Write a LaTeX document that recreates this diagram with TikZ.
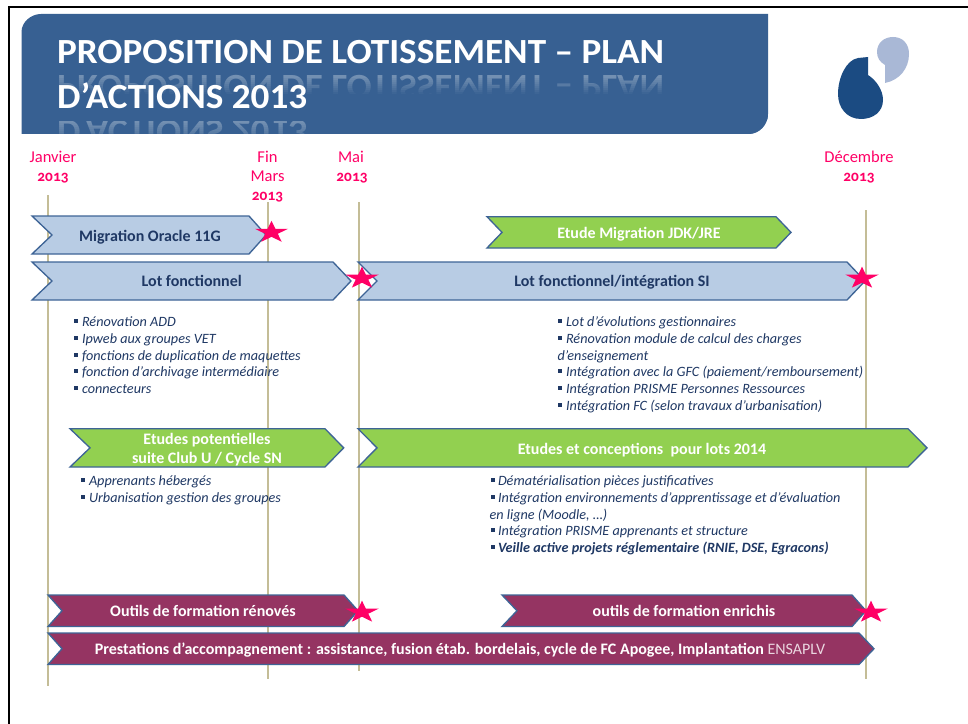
\documentclass[tikz,border=0pt]{standalone}
\usepackage{fontspec}
\setmainfont{Carlito}
\definecolor{titleblue}{HTML}{376092}
\definecolor{lineC}{HTML}{C4BD97}
\definecolor{strokeC}{HTML}{3E6496}
\definecolor{paleC}{HTML}{B8CCE4}
\definecolor{greenC}{HTML}{92D050}
\definecolor{purpleC}{HTML}{953462}
\definecolor{starC}{HTML}{FF0066}
\definecolor{inkC}{HTML}{1F3864}
\definecolor{listC}{HTML}{1F3864}
\definecolor{logoA}{HTML}{1B4B82}
\definecolor{logoB}{HTML}{A9B8D6}
\newfontfamily\titlefont[FakeStretch=1.053,BoldFont={Carlito Bold}]{Carlito}
\tikzset{
  tl/.style={draw=lineC,line width=1.5pt},
  chevpale/.style={draw=strokeC,fill=paleC,line width=1pt,line join=miter},
  chevgreen/.style={draw=strokeC,fill=greenC,line width=1pt,line join=miter},
  chevpurple/.style={draw=strokeC,fill=purpleC,line width=1pt,line join=miter},
  base/.style={inner sep=0pt,outer sep=0pt},
  lab/.style={base,anchor=base,font=\fontsize{12}{14}\selectfont\bfseries},
  month/.style={base,anchor=base,text=starC,font=\fontsize{12.4}{14}\selectfont},
  yearlab/.style={base,anchor=base,text=starC,font=\fontsize{11.5}{13}\selectfont\bfseries\addfontfeatures{Numbers=OldStyle}},
  listitem/.style={base,anchor=base west,text=listC,font=\fontsize{10.65}{12}\selectfont\itshape},
  ttl/.style={base,anchor=base west,text=white,font=\titlefont\fontsize{26.5}{30}\selectfont\bfseries},
  rfl/.style={base,anchor=base west,text=white,text opacity=.3,font=\titlefont\fontsize{26.5}{30}\selectfont\bfseries},
}
\newcommand\chev[7]{\draw[#1] (#2,#6) -- (#4,#6) -- (#5,{(#6+#7)/2}) -- (#4,#7) -- (#2,#7) -- (#3,{(#6+#7)/2}) -- cycle;}
\newcommand\starat[2]{\fill[starC,shift={(#1,#2)}]
  (0,-11.6) -- (3.9,-3.6) -- (16.6,-3.6) -- (6.3,1.4) -- (10.2,9.4) -- (0,4.4) -- (-10.2,9.4) -- (-6.3,1.4) -- (-16.6,-3.6) -- (-3.9,-3.6) -- cycle;}
\newcommand\bul[2]{\fill[listC] (#1,#2-7.5) rectangle ++(4,4);}
\newcommand\titlepath{(21.5,134) -- (21.5,32) .. controls (21.5,22) and (31,14) .. (41,14) -- (768,14) -- (768,114) .. controls (768,125) and (759,134) .. (749,134) -- cycle}
\begin{document}
\begin{tikzpicture}[x=0.75pt,y=-0.75pt]
\useasboundingbox (0,0) rectangle (968,724);
\fill[white] (0,0) rectangle (968,724);
% frame
\draw[black,line width=1.5pt] (8.5,724) -- (8.5,7.3) -- (968,7.3);
% title band
\path[fill=titleblue] \titlepath;
\begin{scope}
\clip \titlepath;
\node[rfl] (r1) at (57,76) {\scalebox{1}[-1]{PROPOSITION DE LOTISSEMENT – PLAN}};
\node[rfl] (r2) at (57,121) {\scalebox{1}[-1]{D’ACTIONS 2013}};
\foreach \i in {0,...,9}{
  \fill[titleblue,opacity=\i/9] (21.5,76+\i*2) rectangle (768,78+\i*2);
}
\fill[titleblue] (21.5,96) rectangle (768,121);
\foreach \i in {0,...,6}{
  \fill[titleblue,opacity=\i/12] (21.5,121+\i*2) rectangle (768,123+\i*2);
}
\end{scope}
\node[ttl] (t1) at (57,63.5) {PROPOSITION DE LOTISSEMENT – PLAN};
\node[ttl] (t2) at (57,108.5) {D’ACTIONS 2013};
% logo
\fill[logoA] (868,57) -- (868,75) .. controls (876,80) and (883,90) .. (883,100) .. controls (883,112) and (873,119) .. (861,119) .. controls (847,119) and (838,108) .. (838,94) .. controls (838,78) and (846,60) .. (858,58) -- cycle;
\fill[logoB] (893,37) .. controls (903,37) and (909,44) .. (909,54) .. controls (909,68) and (900,80) .. (885,83) -- (885,65) .. controls (880,62) and (877,58) .. (877,52) .. controls (877,43) and (884,37) .. (893,37) -- cycle;
% date labels
\node[month] (m1) at (53,162) {Janvier};
\node[yearlab] (y1) at (53,181.5) {2013};
\node[month] (m2a) at (267.5,162) {Fin};
\node[month] (m2b) at (267.5,181.5) {Mars};
\node[yearlab] (y2) at (267.5,200.5) {2013};
\node[month] (m3) at (351,162) {Mai};
\node[yearlab] (y3) at (352,181.5) {2013};
\node[month] (m4) at (859,162) {Décembre};
\node[yearlab] (y4) at (859,181.5) {2013};
% timeline rules
\draw[tl] (48,195) -- (48,686);
\draw[tl] (267.5,202) -- (267.5,679);
\draw[tl] (358.5,202) -- (358.5,671);
\draw[tl] (866,210) -- (866,679);
% chevrons
\chev{chevpale}{32}{52}{249}{266}{216}{254}
\chev{chevgreen}{487}{502}{776}{791}{216.7}{248}
\chev{chevpale}{32}{52}{333}{351}{262}{300}
\chev{chevpale}{358}{377}{847}{865}{262}{300}
\chev{chevgreen}{70}{90}{325}{343.7}{428.7}{467}
\chev{chevgreen}{358}{377}{908}{927}{428.7}{467}
\chev{chevpurple}{48}{62}{344}{358}{595}{626.5}
\chev{chevpurple}{502}{517}{852}{866}{595}{626.5}
\chev{chevpurple}{48}{62}{859}{874}{633}{664.5}
% chevron labels
\node[lab,text=inkC] (a1) at (150,241) {Migration Oracle 11G};
\node[lab,text=inkC] (a2) at (191.7,286) {Lot fonctionnel};
\node[lab,text=inkC] (a3) at (612,286) {Lot fonctionnel/intégration SI};
\node[lab,text=white] (a4) at (639,238) {Etude Migration JDK/JRE};
\node[lab,text=white] (a5a) at (207,444) {Etudes potentielles};
\node[lab,text=white] (a5b) at (207,463) {suite Club U / Cycle SN};
\node[lab,text=white] (a6) at (642,454) {Etudes et conceptions\ \ pour lots 2014};
\node[lab,text=white] (a7) at (203,616) {Outils de formation rénovés};
\node[lab,text=white] (a8) at (684,616) {outils de formation enrichis};
\node[lab,text=white] (a9) at (460,654) {Prestations d’accompagnement : assistance, fusion étab. bordelais, cycle de FC Apogee, Implantation {\mdseries\color{white!80!purpleC}ENSAPLV}};
% lists
\bul{73.5}{326}\node[listitem] (l1) at (82,326) {Rénovation ADD};
\bul{73.5}{343}\node[listitem] (l2) at (82,343) {Ipweb aux groupes VET};
\bul{73.5}{360}\node[listitem] (l3) at (82,360) {fonctions de duplication de maquettes};
\bul{73.5}{376}\node[listitem] (l4) at (82,376) {fonction d’archivage intermédiaire};
\bul{73.5}{393}\node[listitem] (l5) at (82,393) {connecteurs};
\bul{81}{485}\node[listitem] (p1) at (89,485) {Apprenants hébergés};
\bul{81}{502}\node[listitem] (p2) at (89,502) {Urbanisation gestion des groupes};
\bul{558}{326}\node[listitem] (s1) at (566,326) {Lot d’évolutions gestionnaires};
\bul{558}{343}\node[listitem] (s2) at (566,343) {Rénovation module de calcul des charges};
\node[listitem] (s2b) at (557.5,360) {d’enseignement};
\bul{558}{376}\node[listitem] (s3) at (566,376) {Intégration avec la GFC (paiement/remboursement)};
\bul{558}{393}\node[listitem] (s4) at (566,393) {Intégration PRISME Personnes Ressources};
\bul{558}{410}\node[listitem] (s5) at (566,410) {Intégration FC (selon travaux d’urbanisation)};
\bul{490.5}{485}\node[listitem] (e1) at (498,485) {Dématérialisation pièces justificatives};
\bul{490.5}{502}\node[listitem] (e2) at (498,502) {Intégration environnements d’apprentissage et d’évaluation};
\node[listitem] (e2b) at (489.5,519) {en ligne (Moodle, \dots)};
\bul{490.5}{535}\node[listitem] (e3) at (498,535) {Intégration PRISME apprenants et structure};
\bul{490.5}{552}\node[listitem,font=\fontsize{10.65}{12}\selectfont\itshape\bfseries] (e4) at (498,552) {Veille active projets réglementaire (RNIE, DSE, Egracons)};
% stars
\starat{271.5}{232.4}
\starat{362}{278.3}
\starat{862}{278.3}
\starat{362}{612.3}
\starat{871}{612.3}
\end{tikzpicture}
\end{document}
